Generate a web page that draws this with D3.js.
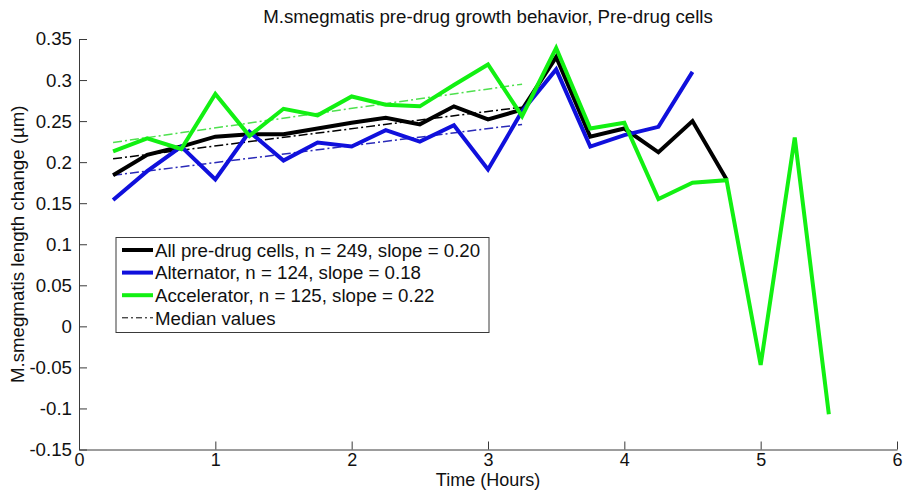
<!DOCTYPE html>
<html>
<head>
<meta charset="utf-8">
<script src="https://cdn.jsdelivr.net/npm/d3@7"></script>
<style>
  html, body { margin: 0; padding: 0; background: #fff; }
  svg { display: block; font-family: "Liberation Sans", Arial, sans-serif; }
</style>
</head>
<body>
<svg id="chart" width="904" height="490"></svg>
<script>
// Time points (hours), sampled every 15 minutes
const timeAll = [0.25, 0.5, 0.75, 1, 1.25, 1.5, 1.75, 2, 2.25, 2.5, 2.75, 3, 3.25, 3.5, 3.75, 4, 4.25, 4.5, 4.75];
const timeAlternator = [0.25, 0.5, 0.75, 1, 1.25, 1.5, 1.75, 2, 2.25, 2.5, 2.75, 3, 3.25, 3.5, 3.75, 4, 4.25, 4.5];
const timeAccelerator = [0.25, 0.5, 0.75, 1, 1.25, 1.5, 1.75, 2, 2.25, 2.5, 2.75, 3, 3.25, 3.5, 3.75, 4, 4.25, 4.5, 4.75, 5, 5.25, 5.5];

// Mean length change (µm) per time point
const allCells = [0.184, 0.209, 0.219, 0.231, 0.234, 0.234, 0.241, 0.248, 0.254, 0.246, 0.268, 0.252, 0.264, 0.328, 0.231, 0.241, 0.212, 0.250, 0.179];
const alternator = [0.154, 0.189, 0.219, 0.179, 0.237, 0.202, 0.224, 0.219, 0.239, 0.225, 0.245, 0.191, 0.262, 0.313, 0.219, 0.233, 0.243, 0.310];
const accelerator = [0.213, 0.229, 0.216, 0.283, 0.232, 0.265, 0.257, 0.280, 0.270, 0.268, 0.294, 0.319, 0.256, 0.339, 0.241, 0.248, 0.155, 0.175, 0.178, -0.047, 0.230, -0.107];

// Median trend lines (start and end of the fitted window)
const medianTime = [0.25, 3.25];
const medianAll = [0.204, 0.267];
const medianAlternator = [0.184, 0.246];
const medianAccelerator = [0.224, 0.295];

const legendLabels = [
  "All pre-drug cells, n = 249, slope = 0.20",
  "Alternator, n = 124, slope = 0.18",
  "Accelerator, n = 125, slope = 0.22",
  "Median values"
];

const xTicks = [0, 1, 2, 3, 4, 5, 6];
const yTicks = [-0.15, -0.1, -0.05, 0, 0.05, 0.1, 0.15, 0.2, 0.25, 0.3, 0.35];

const colors = { all: "#000000", alt: "#1010dc", acc: "#12f012" };
const medianColors = { all: "#000000", alt: "#2a2ab8", acc: "#4ee04e" };

const svg = d3.select("#chart");
const plotLeft = 79, plotRight = 897, plotTop = 39, plotBottom = 449.5;
const fontSize = 18.7;
const xFontSize = 18;

const x = d3.scaleLinear().domain([0, 6]).range([plotLeft, plotRight]);
const y = d3.scaleLinear().domain([-0.15, 0.35]).range([plotBottom, plotTop]);

const axisColor = "#3a3a3a";

// Axes with inward ticks
const xAxis = svg.append("g").attr("transform", `translate(0,${plotBottom})`)
  .call(d3.axisBottom(x).tickValues(xTicks).tickFormat(d3.format("d")).tickSizeInner(-8).tickSizeOuter(0).tickPadding(8));
const yAxis = svg.append("g").attr("transform", `translate(${plotLeft},0)`)
  .call(d3.axisLeft(y).tickValues(yTicks).tickFormat(d => String(+d.toFixed(2))).tickSizeInner(-8).tickSizeOuter(0).tickPadding(7));

[xAxis, yAxis].forEach(g => {
  g.selectAll("path, line").attr("stroke", axisColor).attr("stroke-width", 1);
  g.selectAll("text").attr("fill", "#111").style("font-family", "Liberation Sans, Arial, sans-serif");
});
yAxis.selectAll("text").attr("x", -7).style("font-size", fontSize + "px");
xAxis.selectAll("text").style("font-size", xFontSize + "px")
  .attr("y", 0).attr("dy", null).attr("transform", "translate(0,16.5)");

const line = d3.line().x(d => x(d[0])).y(d => y(d[1]));

// Median trend lines (dash-dot)
[[medianAll, medianColors.all], [medianAlternator, medianColors.alt], [medianAccelerator, medianColors.acc]]
  .forEach(([vals, c]) => {
    svg.append("path")
      .attr("d", line(d3.zip(medianTime, vals)))
      .attr("fill", "none").attr("stroke", c).attr("stroke-width", 1.5)
      .attr("stroke-dasharray", "9,3,2,3");
  });

// Series lines: all cells, alternator, accelerator
const series = [
  [timeAll, allCells, colors.all],
  [timeAlternator, alternator, colors.alt],
  [timeAccelerator, accelerator, colors.acc]
];
series.forEach(([t, v, c]) => {
  svg.append("path")
    .attr("d", line(d3.zip(t, v)))
    .attr("fill", "none").attr("stroke", c).attr("stroke-width", 4)
    .attr("stroke-linejoin", "miter").attr("stroke-miterlimit", 3);
});

// Title and axis labels
svg.append("text").attr("x", (plotLeft + plotRight) / 2).attr("y", 23)
  .attr("text-anchor", "middle").style("font-size", fontSize + "px").attr("fill", "#111")
  .text("M.smegmatis pre-drug growth behavior, Pre-drug cells");
svg.append("text").attr("x", (plotLeft + plotRight) / 2).attr("y", 486.2)
  .attr("text-anchor", "middle").style("font-size", xFontSize + "px").attr("fill", "#111")
  .text("Time (Hours)");
svg.append("text")
  .attr("transform", `translate(24,${(plotTop + plotBottom) / 2}) rotate(-90)`)
  .attr("text-anchor", "middle").style("font-size", fontSize + "px").attr("fill", "#111")
  .text("M.smegmatis length change (µm)");

// Legend
const lg = svg.append("g");
lg.append("rect").attr("x", 116).attr("y", 237.5).attr("width", 373).attr("height", 95)
  .attr("fill", "#fff").attr("stroke", axisColor).attr("stroke-width", 1);
const legendRows = [
  { c: colors.all, w: 4, dash: null },
  { c: colors.alt, w: 4, dash: null },
  { c: colors.acc, w: 4, dash: null },
  { c: "#000", w: 1, dash: "6,3,2,3" }
];
legendRows.forEach((r, i) => {
  const cy = 250 + i * 22.6;
  lg.append("line").attr("x1", 122).attr("x2", 153).attr("y1", cy).attr("y2", cy)
    .attr("stroke", r.c).attr("stroke-width", r.w).attr("stroke-dasharray", r.dash);
  lg.append("text").attr("x", 155).attr("y", cy).attr("dy", "0.36em")
    .style("font-size", fontSize + "px").attr("fill", "#111").text(legendLabels[i]);
});
</script>
</body>
</html>
